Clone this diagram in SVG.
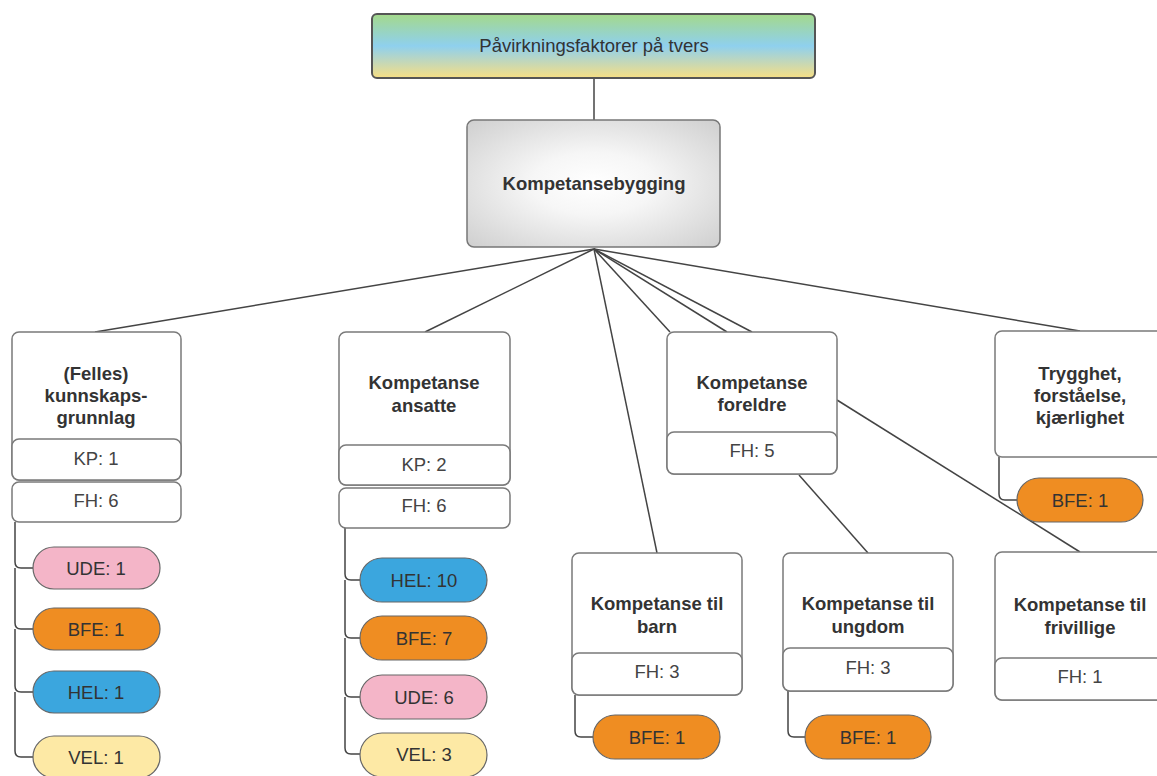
<svg xmlns="http://www.w3.org/2000/svg" width="1157" height="776" viewBox="0 0 1157 776">
  <defs>
    <linearGradient id="bandGrad" x1="0" y1="0" x2="0" y2="1">
      <stop offset="0" stop-color="#a4d98a"/>
      <stop offset="0.5" stop-color="#8fd0ee"/>
      <stop offset="1" stop-color="#f7df84"/>
    </linearGradient>
    <radialGradient id="hubGrad" cx="0.5" cy="0.5" r="0.7">
      <stop offset="0" stop-color="#ffffff"/>
      <stop offset="0.35" stop-color="#f6f6f6"/>
      <stop offset="1" stop-color="#cfcfcf"/>
    </radialGradient>
    <style>
      text { font-family: "Liberation Sans", Arial, sans-serif; font-size: 18.5px; fill: #333; text-anchor: middle; }
      .b { font-weight: bold; }
      .row { fill: #444; }
      .box { fill: #fff; stroke: #7a7a7a; stroke-width: 1.5; }
      .wire { fill: none; stroke: #444; stroke-width: 1.5; }
      .pill { stroke: #666; stroke-width: 1.2; }
      .ude { fill: #f4b5c8; }
      .bfe { fill: #ef8d22; }
      .hel { fill: #3ba6de; }
      .vel { fill: #fde9a5; }
    </style>
  </defs>

  <!-- connectors -->
  <g id="connectors" class="wire">
    <line x1="594" y1="78" x2="594" y2="120"/>
    <line x1="594" y1="249" x2="95" y2="332"/>
    <line x1="594" y1="249" x2="425" y2="332"/>
    <line x1="594" y1="249" x2="657" y2="553"/>
    <line x1="594" y1="249" x2="670" y2="332"/>
    <line x1="594" y1="249" x2="727" y2="332"/>
    <line x1="594" y1="249" x2="752" y2="332"/>
    <line x1="594" y1="249" x2="1080" y2="331"/>
    <line x1="837" y1="400" x2="1080" y2="552"/>
    <line x1="799" y1="475" x2="868" y2="553"/>
    <!-- branch lines to the tag pills -->
    <path d="M15,522 V562 Q15,568 21,568 H33 M15,568 V623 Q15,629 21,629 H33 M15,629 V686 Q15,692 21,692 H33 M15,692 V751 Q15,757 21,757 H33"/>
    <path d="M345,528 V574 Q345,580 351,580 H360 M345,580 V632 Q345,638 351,638 H360 M345,638 V691 Q345,697 351,697 H360 M345,697 V748 Q345,754 351,754 H360"/>
    <path d="M575,695 V731 Q575,737 581,737 H593"/>
    <path d="M788,691 V731 Q788,737 794,737 H805"/>
    <path d="M999,457 V494 Q999,500 1005,500 H1017"/>
  </g>

  <g id="pavirkning">
    <rect x="372" y="14" width="443" height="64" rx="5" fill="url(#bandGrad)" stroke="#555" stroke-width="2"/>
    <text x="594" y="52">Påvirkningsfaktorer på tvers</text>
  </g>

  <g id="kompetansebygging">
    <rect x="467" y="120" width="253" height="127" rx="7" fill="url(#hubGrad)" stroke="#777" stroke-width="1.5"/>
    <text class="b" x="594" y="190">Kompetansebygging</text>
  </g>

  <g id="felles">
    <rect class="box" x="12" y="332" width="169" height="148" rx="7"/>
    <rect class="box" x="12" y="439" width="169" height="41" rx="7"/>
    <rect class="box" x="12" y="482" width="169" height="40" rx="7"/>
    <text class="b" x="96" y="380">(Felles)</text>
    <text class="b" x="96" y="402">kunnskaps-</text>
    <text class="b" x="96" y="424">grunnlag</text>
    <text class="row" x="96" y="465">KP: 1</text>
    <text class="row" x="96" y="507">FH: 6</text>
  </g>
  <g id="felles-ude"><rect class="pill ude" x="33" y="547" width="127" height="42" rx="21"/><text x="96" y="575">UDE: 1</text></g>
  <g id="felles-bfe"><rect class="pill bfe" x="33" y="608" width="127" height="42" rx="21"/><text x="96" y="636">BFE: 1</text></g>
  <g id="felles-hel"><rect class="pill hel" x="33" y="671" width="127" height="42" rx="21"/><text x="96" y="699">HEL: 1</text></g>
  <g id="felles-vel"><rect class="pill vel" x="33" y="736" width="127" height="42" rx="21"/><text x="96" y="764">VEL: 1</text></g>

  <g id="ansatte">
    <rect class="box" x="339" y="332" width="171" height="153" rx="7"/>
    <rect class="box" x="339" y="445" width="171" height="40" rx="7"/>
    <rect class="box" x="339" y="488" width="171" height="40" rx="7"/>
    <text class="b" x="424" y="389">Kompetanse</text>
    <text class="b" x="424" y="412">ansatte</text>
    <text class="row" x="424" y="471">KP: 2</text>
    <text class="row" x="424" y="512">FH: 6</text>
  </g>
  <g id="ansatte-hel"><rect class="pill hel" x="360" y="558" width="127" height="44" rx="22"/><text x="424" y="587">HEL: 10</text></g>
  <g id="ansatte-bfe"><rect class="pill bfe" x="360" y="616" width="127" height="44" rx="22"/><text x="424" y="645">BFE: 7</text></g>
  <g id="ansatte-ude"><rect class="pill ude" x="360" y="675" width="127" height="44" rx="22"/><text x="424" y="704">UDE: 6</text></g>
  <g id="ansatte-vel"><rect class="pill vel" x="360" y="733" width="127" height="44" rx="22"/><text x="424" y="761">VEL: 3</text></g>

  <g id="foreldre">
    <rect class="box" x="667" y="332" width="170" height="142" rx="7"/>
    <rect class="box" x="667" y="432" width="170" height="42" rx="7"/>
    <text class="b" x="752" y="389">Kompetanse</text>
    <text class="b" x="752" y="411">foreldre</text>
    <text class="row" x="752" y="457">FH: 5</text>
  </g>

  <g id="trygghet">
    <rect class="box" x="995" y="331" width="170" height="126" rx="7"/>
    <text class="b" x="1080" y="380">Trygghet,</text>
    <text class="b" x="1080" y="402">forståelse,</text>
    <text class="b" x="1080" y="424">kjærlighet</text>
  </g>
  <g id="trygghet-bfe"><rect class="pill bfe" x="1017" y="478" width="126" height="44" rx="22"/><text x="1080" y="507">BFE: 1</text></g>

  <g id="barn">
    <rect class="box" x="572" y="553" width="170" height="142" rx="7"/>
    <rect class="box" x="572" y="653" width="170" height="42" rx="7"/>
    <text class="b" x="657" y="610">Kompetanse til</text>
    <text class="b" x="657" y="633">barn</text>
    <text class="row" x="657" y="678">FH: 3</text>
  </g>
  <g id="barn-bfe"><rect class="pill bfe" x="593" y="715" width="127" height="44" rx="22"/><text x="657" y="744">BFE: 1</text></g>

  <g id="ungdom">
    <rect class="box" x="783" y="553" width="170" height="138" rx="7"/>
    <rect class="box" x="783" y="648" width="170" height="43" rx="7"/>
    <text class="b" x="868" y="610">Kompetanse til</text>
    <text class="b" x="868" y="633">ungdom</text>
    <text class="row" x="868" y="674">FH: 3</text>
  </g>
  <g id="ungdom-bfe"><rect class="pill bfe" x="805" y="715" width="126" height="44" rx="22"/><text x="868" y="744">BFE: 1</text></g>

  <g id="frivillige">
    <rect class="box" x="995" y="552" width="170" height="148" rx="7"/>
    <rect class="box" x="995" y="658" width="170" height="42" rx="7"/>
    <text class="b" x="1080" y="611">Kompetanse til</text>
    <text class="b" x="1080" y="634">frivillige</text>
    <text class="row" x="1080" y="683">FH: 1</text>
  </g>
</svg>
